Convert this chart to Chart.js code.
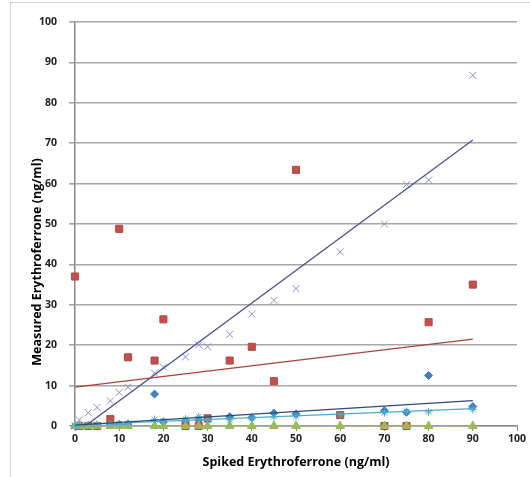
<!DOCTYPE html>
<html>
<head>
<meta charset="utf-8">
<script src="https://cdn.jsdelivr.net/npm/chart.js@4/dist/chart.umd.min.js"></script>
<style>
body { margin: 0; background: #fff; }
#wrap { position: relative; width: 530px; height: 477px; }
#frame { position: absolute; left: 10px; top: 2px; width: 530px; height: 480px; border-left: 1px solid #d4d4d4; border-top: 1px solid #d4d4d4; }
</style>
</head>
<body>
<div id="wrap">
<div id="frame"></div>
<canvas id="chart"></canvas>
</div>
<script>
// spiked concentrations (x) shared by every sample
const spiked = [0, 1, 3, 5, 8, 10, 12, 18, 20, 25, 28, 30, 35, 40, 45, 50, 60, 70, 75, 80, 90];

// measured values per sample
const blueVals   = [0, 0, 0, 0.2, 0.3, 0.4, 0.5, 7.9, 1.0, 1.2, 1.5, 1.6, 2.3, 2.1, 3.2, 3.0, 2.7, 3.8, 3.4, 12.5, 4.8];
const redVals    = [37, 0, 0, 0, 1.7, 48.8, 17.0, 16.2, 26.4, 0, 0, 1.9, 16.2, 19.6, 11.1, 63.4, 2.7, 0, 0, 25.7, 35.0];
const greenVals  = [0, 0, 0, 0, 0, 0, 0, 0, 0, 0, 0, 0, 0, 0, 0, 0, 0, 0, 0, 0, 0];
const purpleVals = [0, 1.5, 3.3, 4.6, 6.2, 8.3, 9.6, 13.1, 14.6, 17.1, 20.1, 19.6, 22.7, 27.7, 31.1, 34.0, 43.1, 50.0, 59.8, 60.9, 86.8];
const cyanVals   = [0, 0.2, 0.3, 0.3, 0.4, 0.5, 0.6, 1.6, 1.2, 1.7, 2.3, 1.4, 1.5, 1.8, 2.3, 2.5, 2.8, 3.3, 3.6, 3.5, 4.1];

// linear trendline ends at x = 0 and x = 90
const trendX      = [0, 90];
const blueTrend   = [0.2, 6.3];
const redTrend    = [9.6, 21.5];
const greenTrend  = [0, 0];
const purpleTrend = [-1.85, 70.8];
const cyanTrend   = [0.3, 4.3];

const xTicks = [0, 10, 20, 30, 40, 50, 60, 70, 80, 90, 100];
const yTicks = [0, 10, 20, 30, 40, 50, 60, 70, 80, 90, 100];

function pts(xs, ys) {
    return xs.map((x, i) => ({ x: x, y: ys[i] }));
}

function marks(ys, color, style, radius, order, border) {
    return {
        data: pts(spiked, ys),
        showLine: false,
        clip: false,
        pointStyle: style,
        pointRadius: radius,
        pointBackgroundColor: color,
        pointBorderColor: border || color,
        pointBorderWidth: 1,
        order: order
    };
}

function trend(ys, color) {
    return {
        data: pts(trendX, ys),
        showLine: true,
        borderColor: color,
        borderWidth: 1.3,
        pointRadius: 0,
        order: 0
    };
}

const yTitlePlugin = {
    id: 'yTitle',
    afterDraw(chart) {
        const ctx = chart.ctx;
        ctx.save();
        ctx.translate(37, 262);
        ctx.rotate(-Math.PI / 2);
        ctx.font = 'bold 12.5px "Open Sans"';
        ctx.fillStyle = '#000';
        ctx.textAlign = 'center';
        ctx.textBaseline = 'middle';
        ctx.fillText('Measured Erythroferrone (ng/ml)', 0, 0);
        ctx.restore();
    }
};

const tickFont = { family: 'Open Sans', size: 10.5, weight: 'bold' };

new Chart(document.getElementById('chart'), {
    type: 'scatter',
    data: {
        datasets: [
            marks(blueVals, '#3f7fc4', 'rectRot', 4, 5),
            marks(redVals, '#c0504d', 'rect', 5, 4, '#b8473f'),
            marks(greenVals, '#9bbb59', 'triangle', 5, 3),
            marks(purpleVals, '#8d8dc6', 'crossRot', 5, 2),
            marks(cyanVals, '#4bacc6', 'star', 4, 1),
            trend(blueTrend, '#2f4a78'),
            trend(redTrend, '#a8423f'),
            trend(greenTrend, '#9bbb59'),
            trend(purpleTrend, '#4e4f92'),
            trend(cyanTrend, '#4bacc6')
        ]
    },
    options: {
        responsive: true,
        maintainAspectRatio: false,
        animation: false,
        layout: { padding: { left: 0, right: 13, top: 22, bottom: 0 } },
        plugins: { legend: { display: false }, tooltip: { enabled: false } },
        scales: {
            x: {
                type: 'linear',
                min: 0,
                max: 100,
                afterBuildTicks: s => { s.ticks = xTicks.map(v => ({ value: v })); },
                afterFit: s => { s.height = 51; },
                ticks: { font: tickFont, color: '#222', padding: 2, maxRotation: 0 },
                grid: { drawOnChartArea: false, drawTicks: true, tickLength: 5, color: '#8a8a8a', lineWidth: 1 },
                border: { color: '#8a8a8a', width: 1.5 },
                title: {
                    display: true,
                    text: 'Spiked Erythroferrone (ng/ml)',
                    font: { family: 'Open Sans', size: 12.5, weight: 'bold' },
                    color: '#000',
                    padding: { top: 4, bottom: 7 }
                }
            },
            y: {
                min: 0,
                max: 100,
                afterBuildTicks: s => { s.ticks = yTicks.map(v => ({ value: v })); },
                afterFit: s => { s.width = 75; },
                ticks: { font: tickFont, color: '#222', padding: 12 },
                grid: { color: '#a6a6a6', lineWidth: 1.6, drawTicks: true, tickLength: 6 },
                border: { color: '#8a8a8a', width: 1.5 }
            }
        }
    },
    plugins: [yTitlePlugin]
});
</script>
</body>
</html>
